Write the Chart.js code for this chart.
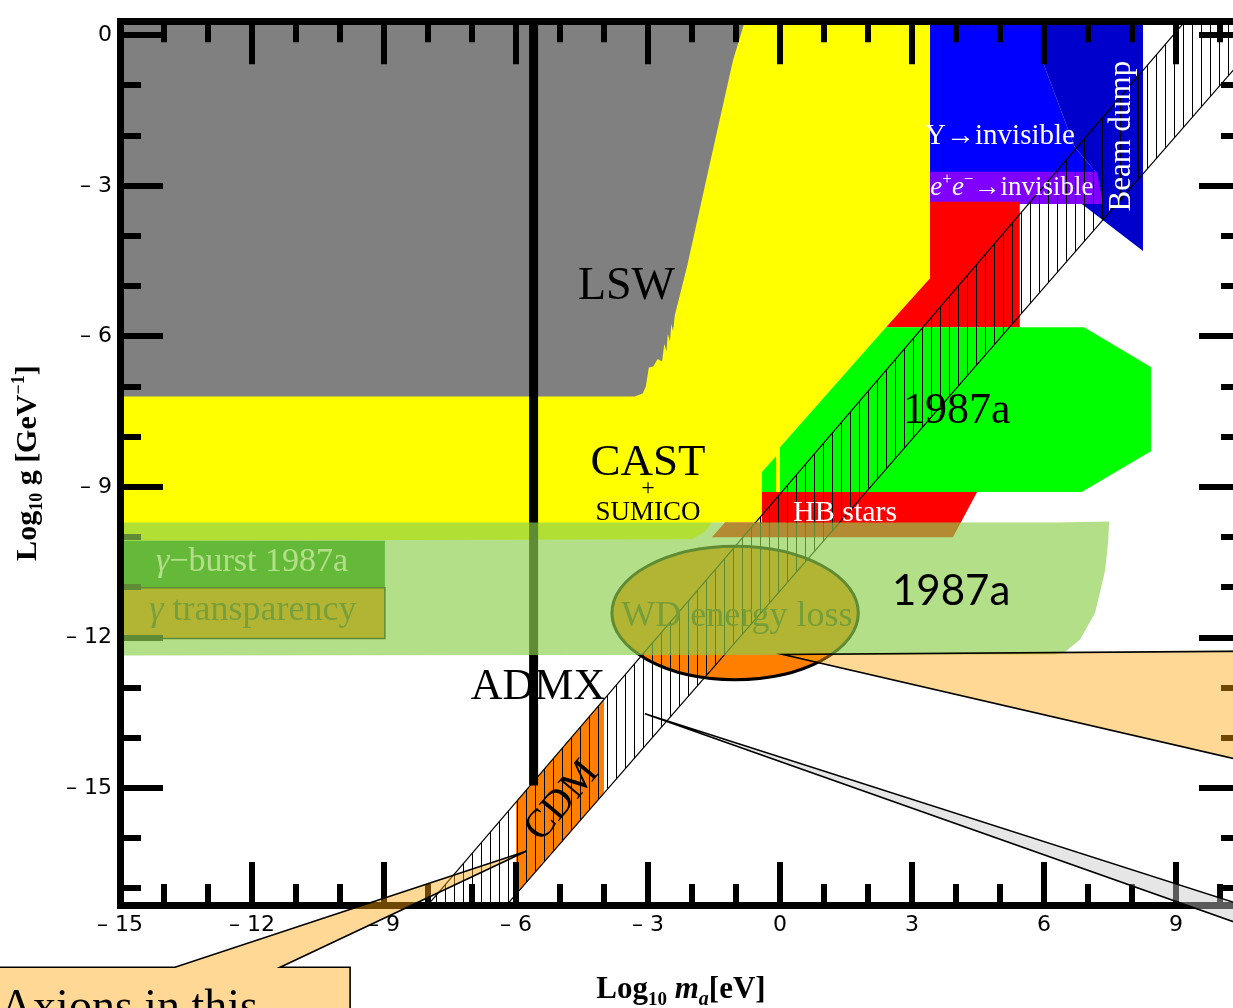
<!DOCTYPE html>
<html>
<head>
<meta charset="utf-8">
<title>Axion coupling vs mass: exclusion regions</title>
<script src="https://cdn.jsdelivr.net/npm/chart.js@4.4.1/dist/chart.umd.min.js"></script>
<style>
  html, body { margin: 0; padding: 0; background: #ffffff; overflow: hidden; }
  #frame { width: 1260px; height: 1008px; }
</style>
</head>
<body>
<div id="frame"><canvas id="plot" width="1260" height="1008"></canvas></div>
<script>
// ---- axis ranges: log10 of axion mass m_a [eV] and of coupling g [GeV^-1]
const xRange = [-15, 10.5];
const yRange = [-17.33, 0.28];
const xTickLabels = [-15, -12, -9, -6, -3, 0, 3, 6, 9];
const yTickLabels = [0, -3, -6, -9, -12, -15];

// ---- regions, vertices as [log10 m_a, log10 g]
const castSumico = [[-15, 0.28], [3.41, 0.28], [3.41, -4.84], [0, -8.21], [0, -9.10], [-0.41, -9.10],
  [-0.41, -9.71], [-1.55, -9.71], [-1.72, -9.9], [-2.0, -10.04], [-15, -10.07]];
const lsw = [[-15, 0.28], [-0.80, 0.28], [-1.07, -0.51], [-1.61, -2.62], [-2.11, -4.60], [-2.39, -5.58],
  [-2.43, -5.90], [-2.47, -5.75], [-2.50, -6.10], [-2.55, -5.95], [-2.58, -6.30], [-2.63, -6.15],
  [-2.68, -6.50], [-2.78, -6.45], [-2.88, -6.60], [-2.98, -6.62], [-3.05, -7.00], [-3.12, -7.14],
  [-3.30, -7.20], [-15, -7.20]];
const upsilonInvisible = [[3.41, 0.28], [5.98, 0.28], [5.98, -0.55], [6.70, -2.23], [7.21, -2.76],
  [7.21, -3.32], [3.41, -3.32]];
const beamDump = [[5.98, 0.28], [8.25, 0.28], [8.25, -4.30], [6.86, -3.36], [7.21, -2.76],
  [6.70, -2.23], [5.98, -0.55]];
const eeInvisible = [[3.41, -2.72], [7.21, -2.72], [7.34, -3.36], [3.41, -3.36]];
const stellarUpper = [[3.41, -3.32], [5.45, -3.32], [5.45, -5.82], [2.41, -5.82], [3.41, -4.84]];
const sn1987a = [[2.41, -5.82], [6.91, -5.82], [8.43, -6.61], [8.43, -8.29], [6.86, -9.10],
  [0, -9.10], [0, -8.21]];
const sn1987aEdge = [[-0.41, -9.10], [-0.41, -8.70], [-0.09, -8.39], [-0.09, -9.10]];
const hbStars = [[-0.41, -9.10], [4.48, -9.10], [3.93, -10.0], [-1.55, -10.0], [-1.25, -9.71], [-0.41, -9.71]];
const gammaBurst = [[-15, -10.07], [-8.98, -10.07], [-8.98, -11.01], [-15, -11.01]];
const gammaTransparency = [[-15, -11.01], [-8.98, -11.01], [-8.98, -12.02], [-15, -12.02]];
const cdm = [[-6, -17.11], [-6, -15.28], [-4, -13.23], [-4, -15.10]];
const axionModels = [[-8.6, -17.94], [10.0, 1.09], [11.5, 0.51], [-6.5, -17.62]];
const admx = [[-5.6, 0.4], [-5.6, -14.95]];
const sn1987aLoss = [[-15, -9.71], [6.27, -9.71], [7.48, -9.69], [7.46, -10.07], [7.39, -10.66],
  [7.16, -11.51], [6.82, -12.04], [6.46, -12.30], [6.27, -12.34], [-15, -12.36]];
// white-dwarf cooling ellipse: centre and semi-axes
const wdCenter = [-1.02, -11.51];
const wdRadii = [2.8, 1.33];

// ---- callouts
const calloutWD = [[0.07, -12.34], [11.0, -12.27], [11.0, -14.55]];
const calloutBand = [[-3.07, -13.52], [11.0, -17.47], [11.0, -17.88]];
const calloutAxions = [[-18.2, -18.57], [-13.75, -18.57], [-5.77, -16.26], [-11.36, -18.57],
  [-9.77, -18.57], [-9.77, -20.2], [-18.2, -20.2]];

const SERIF = '"Liberation Serif", "Times New Roman", serif';
const f = (size, style) => (style ? style + ' ' : '') + size + 'px ' + SERIF;

// labels drawn above every region
const labelsTop = [
  { runs: [{ t: 'LSW', font: f(46) }], at: [-3.49, -5.25], color: '#000' },
  { runs: [{ t: 'CAST', font: f(45) }], at: [-3.0, -8.76], color: '#000' },
  { runs: [{ t: '+', font: f(24) }], at: [-3.0, -9.16], color: '#000' },
  { runs: [{ t: 'SUMICO', font: f(27) }], at: [-3.0, -9.65], color: '#000' },
  { runs: [{ t: 'HB stars', font: f(30) }], at: [1.48, -9.67], color: '#fff' },
  { runs: [{ t: '1987a', font: f(44) }], at: [4.02, -7.72], color: '#000' },
  { runs: [{ t: '1987a', font: '42px Lato, "Open Sans", sans-serif' }], at: [3.89, -11.35], color: '#000' },
  { runs: [{ t: 'ADMX', font: f(44) }], at: [-5.5, -13.22], color: '#000' },
  { runs: [{ t: 'CDM', font: f(40) }], at: [-4.95, -15.26], rot: -50, middle: true, color: '#000' },
  { runs: [{ t: 'Υ→invisible', font: f(29) }], at: [5.0, -2.17], color: '#fff' },
  { runs: [{ t: 'e', font: f(27, 'italic') }, { t: '+', font: f(17), dy: -11 },
           { t: 'e', font: f(27, 'italic') }, { t: '−', font: f(17), dy: -11 },
           { t: '→invisible', font: f(27) }], at: [5.27, -3.18], color: '#fff' },
  { runs: [{ t: 'Beam dump', font: f(31) }], at: [7.77, -2.01], rot: -90, middle: true, color: '#fff' }
];
// labels lying beneath the translucent SN 1987a band
const labelsUnder = [
  { runs: [{ t: 'γ', font: f(34, 'italic') }, { t: '−burst 1987a', font: f(34) }], at: [-12.0, -10.68], color: '#ffffff' },
  { runs: [{ t: 'γ', font: f(36, 'italic') }, { t: ' transparency', font: f(36) }], at: [-11.98, -11.66], color: '#4f3f17' },
  { runs: [{ t: 'WD energy loss', font: f(36) }], at: [-0.98, -11.78], color: '#4a3a10' }
];

// vertical hatching for the axion model band
function makeHatch() {
  const c = document.createElement('canvas');
  c.width = 9; c.height = 9;
  const g = c.getContext('2d');
  g.fillStyle = '#000';
  g.fillRect(4, 0, 1, 9);
  return g.createPattern(c, 'repeat');
}

const pts = a => a.map(([x, y]) => ({ x, y }));
function region(label, data, color, extra) {
  return Object.assign({
    label, data: pts(data), showLine: true, fill: 'shape',
    backgroundColor: color, borderColor: 'transparent', borderWidth: 0,
    pointRadius: 0, pointHoverRadius: 0
  }, extra || {});
}

// bottom-to-top drawing order
const layers = [
  region('CAST + SUMICO', castSumico, '#ffff00'),
  region('LSW', lsw, '#808080'),
  region('Υ→invisible', upsilonInvisible, '#0000ff'),
  region('Beam dump', beamDump, '#0000cc'),
  region('e+e−→invisible', eeInvisible, '#8000ff'),
  region('Stellar cooling', stellarUpper, '#ff0000'),
  region('SN 1987a', sn1987a, '#00ff00'),
  region('SN 1987a edge', sn1987aEdge, '#00ff00'),
  region('HB stars', hbStars, '#ff0000'),
  region('γ-burst 1987a', gammaBurst, '#158b15'),
  region('γ transparency', gammaTransparency, '#ff8000', { borderColor: '#000', borderWidth: 1.5 }),
  region('CDM', cdm, '#ff8000'),
  region('Axion models', axionModels, makeHatch(), { borderColor: '#000', borderWidth: 1.2 }),
  { label: 'ADMX', data: pts(admx), showLine: true, fill: false, borderColor: '#000',
    borderWidth: 9, pointRadius: 0, pointHoverRadius: 0 },
  region('SN 1987a energy loss', sn1987aLoss, 'rgba(140,207,76,0.67)')
];
layers.forEach((d, i) => { d.order = layers.length - i; });

function drawRich(ctx, item, x, y) {
  ctx.save();
  ctx.translate(x, y);
  if (item.rot) ctx.rotate(item.rot * Math.PI / 180);
  ctx.fillStyle = item.color || '#000';
  ctx.textBaseline = item.middle ? 'middle' : 'alphabetic';
  let w = 0;
  for (const r of item.runs) { ctx.font = r.font; r.w = ctx.measureText(r.t).width; w += r.w; }
  let cx = -w / 2;
  for (const r of item.runs) { ctx.font = r.font; ctx.fillText(r.t, cx, r.dy || 0); cx += r.w; }
  ctx.restore();
}
function drawLabels(chart, list) {
  const { ctx, scales: { x, y } } = chart;
  for (const item of list) drawRich(ctx, item, x.getPixelForValue(item.at[0]), y.getPixelForValue(item.at[1]));
}

// inward tick marks on all four sides of the frame
function drawFrameTicks(chart) {
  const { ctx, chartArea: a, scales: { x, y } } = chart;
  ctx.save();
  ctx.strokeStyle = '#000';
  ctx.lineWidth = 6;
  ctx.lineCap = 'butt';
  ctx.beginPath();
  for (const t of x.ticks) {
    if (!Number.isInteger(t.value)) continue;
    const p = Math.round(x.getPixelForValue(t.value));
    const len = t.value % 3 === 0 ? 43 : 21;
    ctx.moveTo(p, a.bottom); ctx.lineTo(p, a.bottom - len);
    ctx.moveTo(p, a.top); ctx.lineTo(p, a.top + len);
  }
  for (const t of y.ticks) {
    if (!Number.isInteger(t.value)) continue;
    const p = Math.round(y.getPixelForValue(t.value));
    const len = t.value % 3 === 0 ? 43 : 21;
    ctx.moveTo(a.left, p); ctx.lineTo(a.left + len, p);
    ctx.moveTo(a.right, p); ctx.lineTo(a.right - len, p);
  }
  ctx.stroke();
  ctx.restore();
}

function drawEllipse(chart) {
  const { ctx, chartArea: a, scales: { x, y } } = chart;
  const cx = x.getPixelForValue(wdCenter[0]), cy = y.getPixelForValue(wdCenter[1]);
  const rx = Math.abs(x.getPixelForValue(wdCenter[0] + wdRadii[0]) - cx);
  const ry = Math.abs(y.getPixelForValue(wdCenter[1] + wdRadii[1]) - cy);
  ctx.save();
  ctx.beginPath(); ctx.rect(a.left, a.top, a.right - a.left, a.bottom - a.top); ctx.clip();
  ctx.beginPath();
  ctx.ellipse(cx, cy, rx, ry, 0, 0, Math.PI * 2);
  ctx.fillStyle = '#ff8000';
  ctx.fill();
  ctx.lineWidth = 3;
  ctx.strokeStyle = '#000';
  ctx.stroke();
  ctx.restore();
}

function tracePath(chart, arr) {
  const { ctx, scales: { x, y } } = chart;
  ctx.beginPath();
  arr.forEach(([u, v], i) => {
    const px = x.getPixelForValue(u), py = y.getPixelForValue(v);
    if (i) ctx.lineTo(px, py); else ctx.moveTo(px, py);
  });
}
function drawCallouts(chart) {
  const { ctx, scales: { x, y } } = chart;
  const P = p => [x.getPixelForValue(p[0]), y.getPixelForValue(p[1])];
  ctx.save();
  ctx.lineWidth = 1.6;
  ctx.strokeStyle = '#000';
  // wedge pointing at the axion band
  tracePath(chart, calloutBand); ctx.closePath();
  ctx.fillStyle = 'rgba(200,200,200,0.45)'; ctx.fill();
  ctx.beginPath();
  let [t, b, c] = calloutBand.map(P);
  ctx.moveTo(b[0], b[1]); ctx.lineTo(t[0], t[1]); ctx.lineTo(c[0], c[1]); ctx.stroke();
  // wedge pointing at the white dwarf ellipse
  tracePath(chart, calloutWD); ctx.closePath();
  ctx.fillStyle = 'rgba(255,165,10,0.43)'; ctx.fill();
  [t, b, c] = calloutWD.map(P);
  ctx.beginPath();
  ctx.moveTo(b[0], b[1]); ctx.lineTo(t[0], t[1]); ctx.lineTo(c[0], c[1]); ctx.stroke();
  // box pointing at the CDM window
  tracePath(chart, calloutAxions); ctx.closePath();
  ctx.fillStyle = 'rgba(255,165,10,0.43)'; ctx.fill(); ctx.stroke();
  ctx.fillStyle = '#000';
  ctx.font = f(46);
  ctx.textBaseline = 'alphabetic';
  ctx.fillText('Axions in this', x.getPixelForValue(-17.73), y.getPixelForValue(-19.64));
  ctx.restore();
}

function drawAxisTitles(chart) {
  const { ctx, chartArea: a } = chart;
  const B = s => f(s, 'bold'), BI = s => f(s, 'italic bold');
  drawRich(ctx, { runs: [
    { t: 'Log', font: B(31) }, { t: '10', font: B(19), dy: 7 }, { t: ' ', font: B(31) },
    { t: 'm', font: BI(31) }, { t: 'a', font: BI(20), dy: 7 }, { t: '[eV]', font: B(31) }
  ], color: '#000' }, (a.left + a.right) / 2, a.bottom + 93);
  drawRich(ctx, { runs: [
    { t: 'Log', font: B(30) }, { t: '10', font: B(18), dy: 6 }, { t: ' g [GeV', font: B(30) },
    { t: '−1', font: B(18), dy: -12 }, { t: ']', font: B(30) }
  ], rot: -90, color: '#000' }, 36, (a.top + a.bottom) / 2);
}

const layerHooks = {
  'γ transparency': chart => drawEllipse(chart),
  'ADMX': chart => { drawFrameTicks(chart); drawLabels(chart, labelsUnder); }
};

const overlay = {
  id: 'overlay',
  afterDatasetDraw(chart, args) {
    const hook = layerHooks[chart.data.datasets[args.index].label];
    if (hook) hook(chart);
  },
  afterDatasetsDraw(chart) { drawLabels(chart, labelsTop); },
  afterDraw(chart) { drawCallouts(chart); drawAxisTitles(chart); }
};

const tickFmt = v => (v < 0 ? '– ' + (-v) : String(v));
const frameBorder = { display: true, width: 7, color: '#000', z: 1 };
const tickFont = { family: '"DejaVu Sans", sans-serif', size: 22 };

new Chart(document.getElementById('plot'), {
  type: 'scatter',
  data: { datasets: layers },
  options: {
    responsive: false,
    animation: false,
    events: [],
    layout: { padding: { left: 0, right: 18, top: 0, bottom: 0 } },
    plugins: { legend: { display: false }, tooltip: { enabled: false }, title: { display: false } },
    scales: {
      x: {
        type: 'linear', position: 'bottom', min: xRange[0], max: xRange[1],
        ticks: {
          stepSize: 1, autoSkip: false, includeBounds: false, maxRotation: 0, minRotation: 0, padding: 7,
          color: '#000', font: tickFont,
          callback: v => (xTickLabels.includes(v) ? tickFmt(v) : '')
        },
        grid: { display: false, drawTicks: false },
        border: frameBorder,
        afterFit: s => { s.height = 103; }
      },
      xTop: {
        type: 'linear', position: 'top', min: xRange[0], max: xRange[1],
        ticks: { display: false },
        grid: { display: false, drawTicks: false },
        border: frameBorder,
        afterFit: s => { s.height = 13; }
      },
      y: {
        type: 'linear', position: 'left', min: yRange[0], max: yRange[1],
        ticks: {
          stepSize: 1, autoSkip: false, includeBounds: false, padding: 8,
          color: '#000', font: tickFont,
          callback: v => (yTickLabels.includes(v) ? tickFmt(v) : '')
        },
        grid: { display: false, drawTicks: false },
        border: frameBorder,
        afterFit: s => { s.width = 120; }
      }
    }
  },
  plugins: [overlay]
});
</script>
</body>
</html>
